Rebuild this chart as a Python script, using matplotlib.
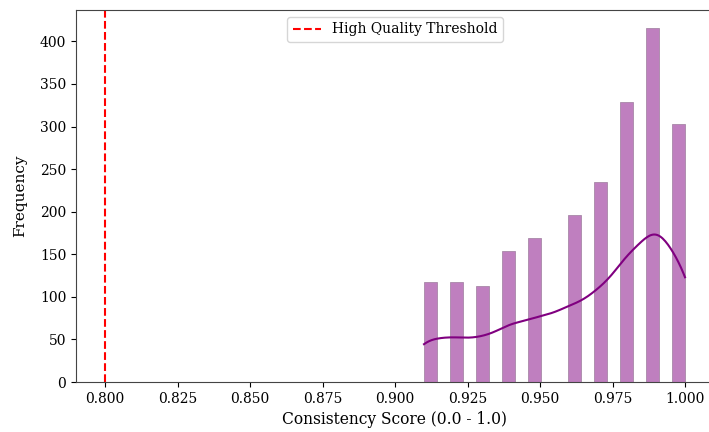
import numpy as np
import pandas as pd
import matplotlib
matplotlib.use("Agg")
import matplotlib.pyplot as plt
import seaborn as sns

# consistency scores (discrete) and how often each occurs
scores = [0.91, 0.92, 0.93, 0.94, 0.95, 0.96, 0.97, 0.98, 0.99, 1.00]
counts = [117, 117, 113, 154, 169, 196, 235, 329, 416, 303]
threshold = 0.8

plt.rcParams['font.family'] = ['DejaVu Serif']

df = pd.DataFrame({"score": np.repeat(scores, counts)})

fig = plt.figure(figsize=(7.09, 4.32), dpi=100)
ax = fig.add_axes([76 / 709, 50 / 432, (714 - 76) / 709, (382 - 10) / 432])

sns.histplot(df["score"], bins=20, kde=True, color="purple", ax=ax,
             edgecolor="#a888a8", linewidth=0.6)
ax.axvline(threshold, color="red", linestyle="--", label="High Quality Threshold")

ax.set_xlabel("Consistency Score (0.0 - 1.0)", fontsize=11.2)
ax.set_ylabel("Frequency", fontsize=11, labelpad=9)
ax.tick_params(labelsize=10)
for s in ax.spines.values():
    s.set_color("#444444")
ax.legend(loc="upper center", fontsize=10)

fig.savefig("out.png", dpi=100)
